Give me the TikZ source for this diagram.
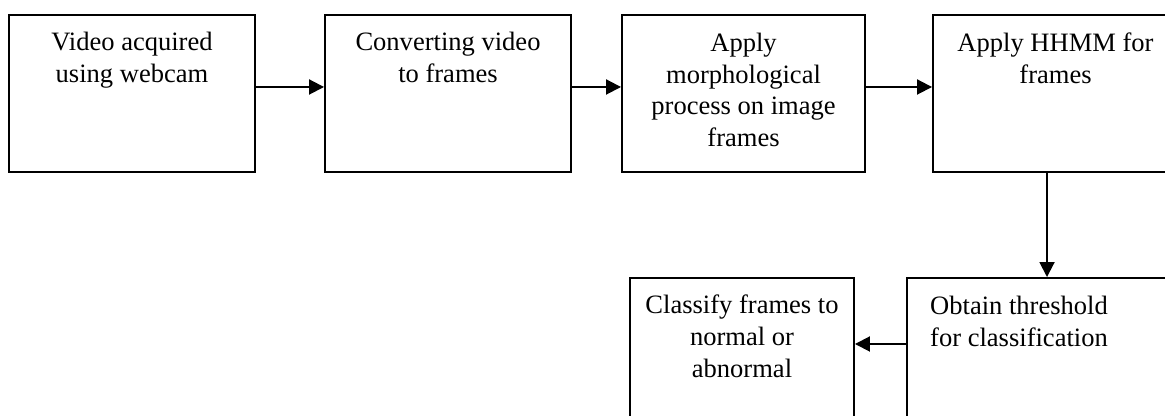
\documentclass[tikz,border=0pt]{standalone}
\usepackage{fontspec}
\setmainfont{Liberation Serif}
\usetikzlibrary{arrows.meta,positioning}

\begin{document}
\begin{tikzpicture}
        [box/.style={draw, line width=1.1pt, minimum height=3.14cm, inner sep=0pt},
        txt/.style={align=center, inner sep=0pt, font=\fontsize{15.1}{18.1}\selectfont},
        arr/.style={line width=1.1pt, -{Triangle[length=0.3cm,width=0.3cm]}}]

        \useasboundingbox (0,0) rectangle (23.3,8.32);
        \clip (0,0) rectangle (23.3,8.32);

        % Boxes of the top row
        \node[box, minimum width=4.92cm] (b1) at (2.64,6.45) {};
        \node[box, minimum width=4.92cm] (b2) at (8.96,6.45) {};
        \node[box, minimum width=4.86cm] (b3) at (14.87,6.45) {};
        \node[box, minimum width=4.90cm] (b4) at (21.11,6.45) {};

        % Boxes of the bottom row (cut by the page edge)
        \node[box, minimum width=5.46cm, minimum height=3.06cm] (b5) at (20.87,1.23) {};
        \node[box, minimum width=4.48cm, minimum height=3.06cm] (b6) at (14.84,1.23) {};

        % Texts in the boxes
        \node[txt, below=0.35cm of b1.north] (t1) {Video acquired\\using webcam};
        \node[txt, below=0.35cm of b2.north] (t2) {Converting video\\to frames};
        \node[txt, below=0.37cm of b3.north] (t3) {Apply\\morphological\\process on image\\frames};
        \node[txt, below=0.37cm of b4.north] (t4) {Apply HHMM for\\frames};
        \node[txt, anchor=north] (t5) at (20.38,2.41) {Obtain threshold\\for classification};
        \node[txt, below=0.35cm of b6.north] (t6) {Classify frames to\\normal or\\abnormal};

        % Flow arrows
        \draw[arr] ([yshift=0.13cm]b1.east) -- ([yshift=0.13cm]b2.west);
        \draw[arr] ([yshift=0.13cm]b2.east) -- ([yshift=0.13cm]b3.west);
        \draw[arr] ([yshift=0.13cm]b3.east) -- ([yshift=0.13cm]b4.west);
        \draw[arr] ([xshift=-0.17cm]b4.south) -- ([xshift=-0.17cm]b4.south |- b5.north);
        \draw[arr] ([yshift=0.21cm]b5.west) -- ([yshift=0.21cm]b6.east);

    \end{tikzpicture}
\end{document}
